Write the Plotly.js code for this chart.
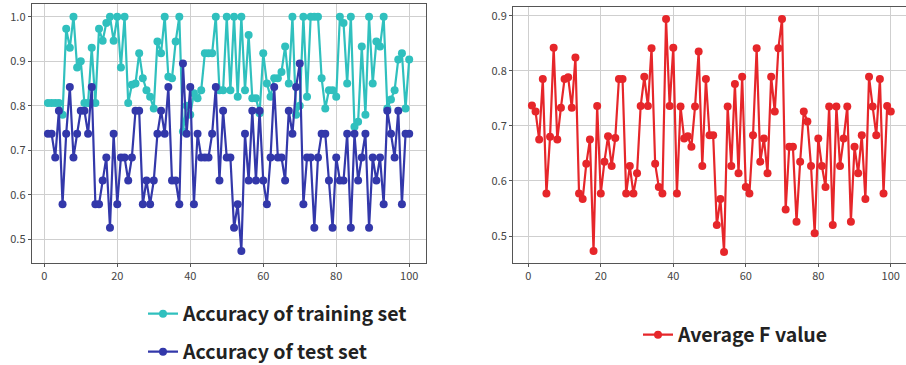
<!DOCTYPE html>
<html><head><meta charset="utf-8">
<script src="https://cdn.plot.ly/plotly-3.0.1.min.js"></script>
<style>html,body{margin:0;padding:0;background:#fff}#chart{width:906px;height:365px}</style>
</head><body><div id="chart"></div>
<script>
// trial numbers 1..100
const trials = Array.from({length: 100}, (_, k) => k + 1);

const trainAcc = [
  0.806,0.806,0.806,0.806,0.780,0.973,0.930,1.000,0.886,0.900,
  0.806,0.806,0.930,0.806,0.973,0.946,0.986,1.000,0.946,1.000,
  0.886,1.000,0.806,0.847,0.850,0.918,0.862,0.835,0.820,0.794,
  0.944,0.918,1.000,0.865,0.862,0.944,1.000,0.742,0.800,0.780,
  0.828,0.817,0.835,0.918,0.918,0.918,1.000,0.835,0.835,1.000,
  0.835,1.000,0.820,1.000,0.835,0.959,0.817,0.817,0.783,0.918,
  0.850,0.820,0.862,0.862,0.876,0.933,0.850,1.000,0.780,0.800,
  1.000,0.820,1.000,1.000,1.000,0.862,0.794,0.835,0.835,0.820,
  1.000,0.986,0.850,1.000,0.753,0.764,0.933,0.780,1.000,0.850,
  0.944,0.933,1.000,0.794,0.814,0.835,0.904,0.918,0.794,0.904
];

const testAcc = [
  0.737,0.737,0.684,0.789,0.579,0.737,0.842,0.684,0.737,0.789,
  0.789,0.737,0.842,0.579,0.579,0.632,0.684,0.526,0.737,0.579,
  0.684,0.684,0.632,0.684,0.789,0.789,0.579,0.632,0.579,0.632,
  0.737,0.789,0.737,0.842,0.632,0.632,0.579,0.895,0.737,0.842,
  0.579,0.737,0.684,0.684,0.684,0.737,0.842,0.632,0.789,0.684,
  0.684,0.526,0.579,0.474,0.737,0.632,0.789,0.632,0.789,0.632,
  0.579,0.684,0.842,0.684,0.684,0.632,0.789,0.737,0.842,0.895,
  0.579,0.684,0.684,0.526,0.684,0.737,0.737,0.632,0.526,0.684,
  0.632,0.632,0.737,0.526,0.737,0.632,0.684,0.737,0.526,0.684,
  0.632,0.684,0.579,0.789,0.737,0.684,0.789,0.579,0.737,0.737
];

const avgF = [
  0.737,0.726,0.675,0.785,0.577,0.680,0.842,0.675,0.733,0.785,
  0.788,0.733,0.824,0.577,0.567,0.631,0.675,0.473,0.736,0.577,
  0.635,0.681,0.627,0.678,0.785,0.785,0.577,0.627,0.577,0.614,
  0.736,0.789,0.736,0.841,0.631,0.589,0.577,0.894,0.736,0.842,
  0.577,0.735,0.677,0.681,0.662,0.735,0.835,0.627,0.785,0.683,
  0.683,0.520,0.567,0.471,0.735,0.627,0.776,0.614,0.789,0.589,
  0.577,0.683,0.841,0.635,0.677,0.614,0.789,0.726,0.841,0.894,
  0.548,0.662,0.662,0.526,0.635,0.726,0.708,0.627,0.505,0.677,
  0.627,0.589,0.735,0.520,0.735,0.627,0.677,0.735,0.526,0.662,
  0.614,0.683,0.567,0.789,0.735,0.683,0.785,0.577,0.736,0.726
];

const names = ['Accuracy of training set', 'Accuracy of test set', 'Average F value'];
const colors = ['#30c0be', '#3338aa', '#e6262a'];

const W = 906, H = 365;
const tickFont = {family: 'Noto Sans CJK JP, Noto Sans, sans-serif', size: 11, color: '#444'};
const legFont = {family: 'Noto Sans CJK JP, Noto Sans, sans-serif', size: 19.5, color: '#222', weight: 'bold'};

function mk(y, i, xa, ya, leg) {
  return {
    x: trials, y: y, name: names[i], type: 'scatter', mode: 'lines+markers',
    line: {color: colors[i], width: 2.2}, marker: {color: colors[i], size: 8},
    xaxis: xa, yaxis: ya, legend: leg, hoverinfo: 'skip'
  };
}

const data = [
  mk(trainAcc, 0, 'x', 'y', 'legend'),
  mk(testAcc, 1, 'x', 'y', 'legend2'),
  mk(avgF, 2, 'x2', 'y2', 'legend3')
];

const axBase = {
  showline: true, mirror: true, linecolor: '#555', linewidth: 1,
  showgrid: true, gridcolor: '#cfcfcf', gridwidth: 1, zeroline: false,
  ticks: 'outside', ticklen: 3, tickcolor: '#555', tickfont: tickFont
};

const legBase = {xanchor: 'left', yanchor: 'middle', font: legFont, bgcolor: 'rgba(0,0,0,0)', borderwidth: 0};

const layout = {
  width: W, height: H,
  margin: {l: 0, r: 0, t: 0, b: 0, autoexpand: false},
  paper_bgcolor: '#fff', plot_bgcolor: '#fff',
  showlegend: true,
  xaxis: Object.assign({}, axBase, {domain: [31.7 / W, 426 / W], range: [-3.45, 104.6], tickvals: [0, 20, 40, 60, 80, 100], anchor: 'y'}),
  yaxis: Object.assign({}, axBase, {domain: [1 - 263 / H, 1 - 4 / H], range: [0.4468, 1.0285], tickvals: [0.5, 0.6, 0.7, 0.8, 0.9, 1.0], tickformat: '.1f', anchor: 'x'}),
  xaxis2: Object.assign({}, axBase, {domain: [513 / W, 1], range: [-4.22, 104.2], tickvals: [0, 20, 40, 60, 80, 100], anchor: 'y2'}),
  yaxis2: Object.assign({}, axBase, {domain: [1 - 263 / H, 1 - 6.7 / H], range: [0.451, 0.9163], tickvals: [0.5, 0.6, 0.7, 0.8, 0.9], tickformat: '.1f', anchor: 'x2'}),
  legend: Object.assign({}, legBase, {x: 143 / W, y: 1 - 314 / H}),
  legend2: Object.assign({}, legBase, {x: 143 / W, y: 1 - 352 / H}),
  legend3: Object.assign({}, legBase, {x: 638 / W, y: 1 - 335 / H})
};

Plotly.newPlot('chart', data, layout, {displayModeBar: false, staticPlot: true});
</script>
</body></html>
